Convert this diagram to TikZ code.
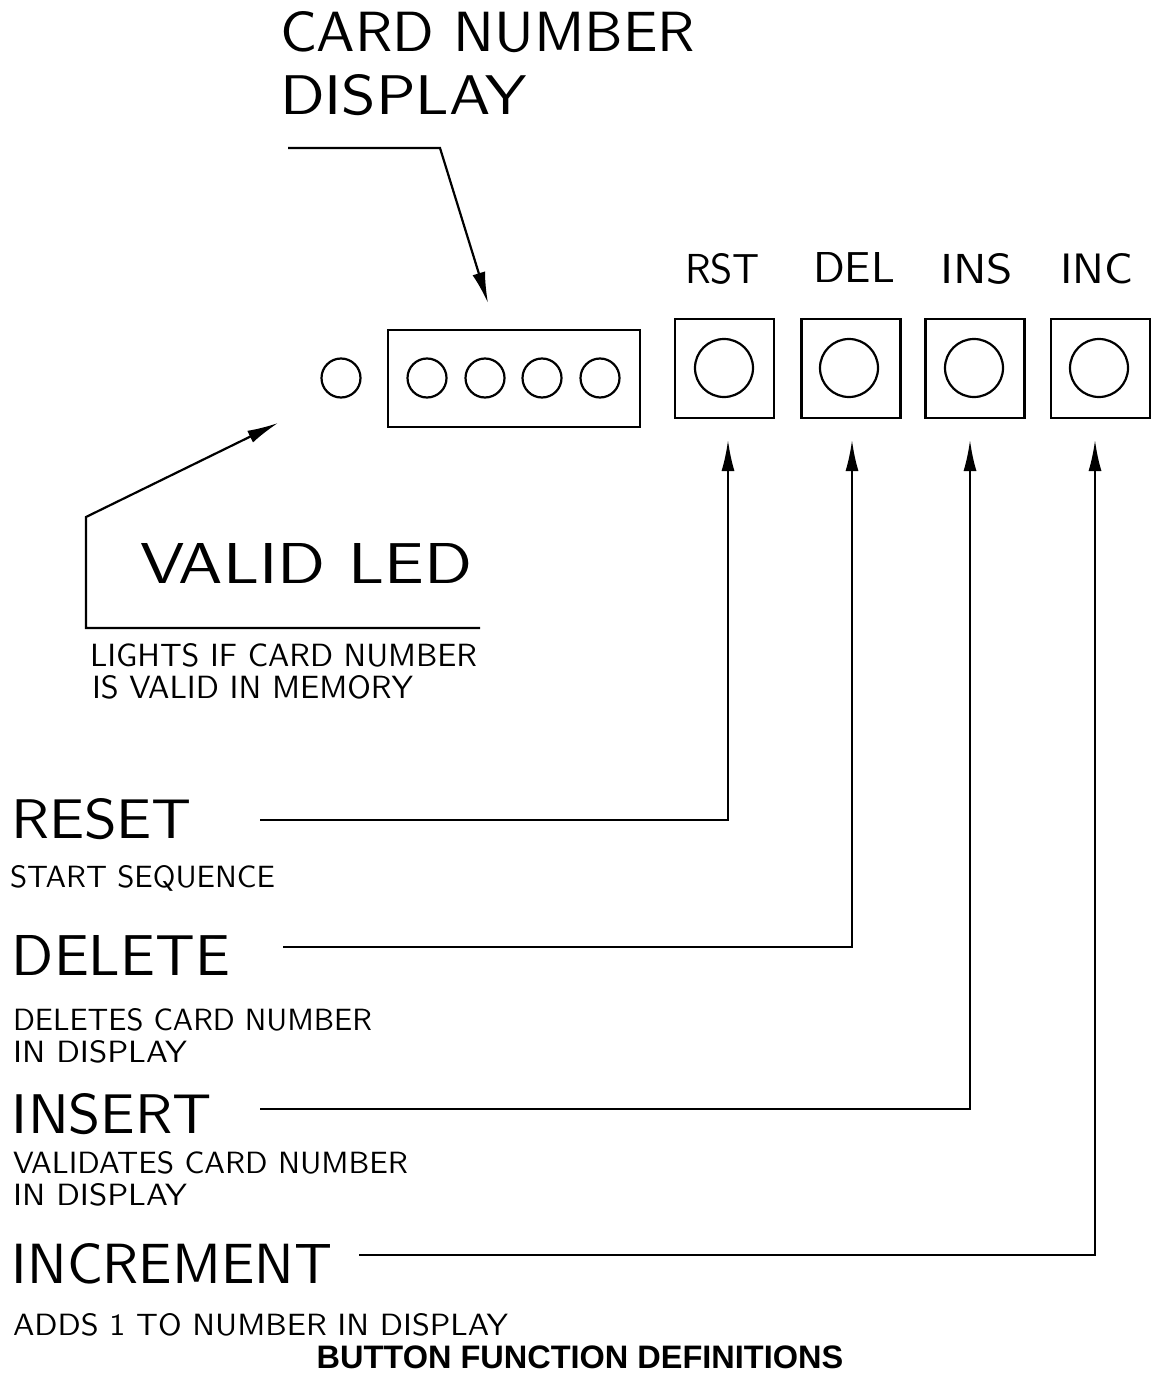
\documentclass[tikz,border=0pt]{standalone}
\usepackage{fontspec}
\usepackage{graphicx}
\newfontfamily\titlefont{Liberation Sans}
\usetikzlibrary{arrows.meta}
\newcommand{\cadtxt}[3]{\resizebox{#1pt}{#2pt}{\sffamily #3}}
\tikzset{
  ln/.style={line width=2.2pt, line join=miter},
  arr/.style={ln, -{Latex[length=31pt,width=13pt]}},
  cad/.style={inner sep=0pt, outer sep=0pt, anchor=base west},
  lamp/.style={circle, draw, line width=2.2pt, minimum size=#1, inner sep=0pt},
  btnbox/.style={draw, line width=2.2pt, minimum width=99pt, minimum height=99pt, inner sep=0pt},
}
\begin{document}
\begin{tikzpicture}[x=1pt,y=-1pt]
\useasboundingbox (0,0) rectangle (1151,1380);
% top label
\node[cad] (cardA) at (280,52) {\cadtxt{415}{40}{CARD NUMBER}};
\node[cad] (cardB) at (280,115) {\cadtxt{247}{40}{DISPLAY}};
% display
\node[draw, line width=2.2pt, minimum width=252pt, minimum height=97pt, inner sep=0pt] (disp) at (514,378.5) {};
\node[lamp=39pt] (d1) at (427,378) {};
\node[lamp=39pt] (d2) at (485,378) {};
\node[lamp=39pt] (d3) at (542,378) {};
\node[lamp=39pt] (d4) at (600,378) {};
\node[lamp=39pt] (valid) at (341,378) {};
% buttons
\node[btnbox] (rstbox) at (724.5,368.5) {};
\node[btnbox] (delbox) at (851,368.5) {};
\node[btnbox] (insbox) at (975,368.5) {};
\node[btnbox] (incbox) at (1100.5,368.5) {};
\node[lamp=58pt] (rstbtn) at (724,368) {};
\node[lamp=58pt] (delbtn) at (849,368) {};
\node[lamp=58pt] (insbtn) at (974,368) {};
\node[lamp=58pt] (incbtn) at (1099,368) {};
\node[cad] (rstlbl) at (685,283) {\cadtxt{75}{30}{RST}};
\node[cad] (dellbl) at (813,283) {\cadtxt{82}{30}{DEL}};
\node[cad] (inslbl) at (940,283) {\cadtxt{73}{30}{INS}};
\node[cad] (inclbl) at (1060,283) {\cadtxt{73}{30}{INC}};
% valid led text
\node[cad] (validlbl) at (140,583) {\cadtxt{332}{40}{VALID LED}};
\node[cad] (validA) at (90,666) {\cadtxt{387}{23}{LIGHTS IF CARD NUMBER}};
\node[cad] (validB) at (92,698) {\cadtxt{321}{23}{IS VALID IN MEMORY}};
% function texts
\node[cad] (reset) at (11,838) {\cadtxt{181}{40}{RESET}};
\node[cad] (resetd) at (10,887) {\cadtxt{265}{22}{START SEQUENCE}};
\node[cad] (delete) at (12,975) {\cadtxt{218}{40}{DELETE}};
\node[cad] (deleteA) at (13,1030) {\cadtxt{359}{22}{DELETES CARD NUMBER}};
\node[cad] (deleteB) at (13,1062) {\cadtxt{174}{22}{IN DISPLAY}};
\node[cad] (insert) at (12,1133) {\cadtxt{200}{40}{INSERT}};
\node[cad] (insertA) at (13,1173) {\cadtxt{395}{22}{VALIDATES CARD NUMBER}};
\node[cad] (insertB) at (13,1205) {\cadtxt{174}{22}{IN DISPLAY}};
\node[cad] (incr) at (12,1283) {\cadtxt{320}{40}{INCREMENT}};
\node[cad] (incrd) at (13,1335) {\cadtxt{495}{22}{ADDS 1 TO NUMBER IN DISPLAY}};
% title
\node[inner sep=0pt, anchor=base] (title) at (580,1368) {\titlefont\fontsize{32.5}{33}\selectfont\bfseries BUTTON FUNCTION DEFINITIONS};
% leader coordinates
\coordinate (cardS) at (288,148);
\coordinate (cardK) at (440,148);
\coordinate (cardT) at (488,303);
\coordinate (validE) at (480,628);
\coordinate (validC) at (86,628);
\coordinate (validK) at (86,517);
\coordinate (validT) at (278,423);
\coordinate (rstS) at (260,820);
\coordinate (rstK) at (728,820);
\coordinate (rstT) at (728,440);
\coordinate (delS) at (283,947);
\coordinate (delK) at (852,947);
\coordinate (delT) at (852,440);
\coordinate (insS) at (260,1109);
\coordinate (insK) at (970,1109);
\coordinate (insT) at (970,440);
\coordinate (incS) at (359,1255);
\coordinate (incK) at (1095,1255);
\coordinate (incT) at (1095,440);
% connectors
\draw[arr] (cardS) -- (cardK) -- (cardT);
\draw[arr] (validE) -- (validC) -- (validK) -- (validT);
\draw[arr] (rstS) -- (rstK) -- (rstT);
\draw[arr] (delS) -- (delK) -- (delT);
\draw[arr] (insS) -- (insK) -- (insT);
\draw[arr] (incS) -- (incK) -- (incT);
\end{tikzpicture}
\end{document}
